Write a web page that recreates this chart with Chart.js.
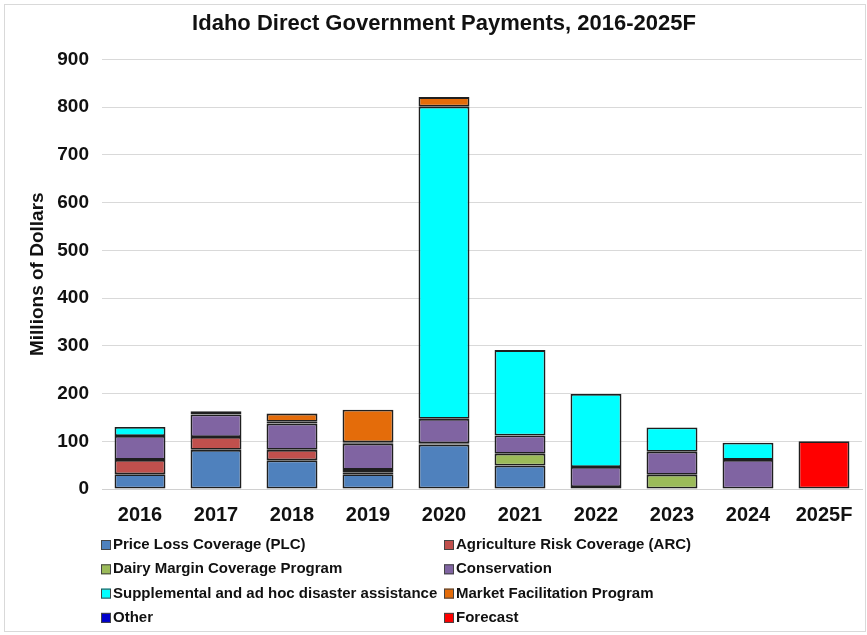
<!DOCTYPE html>
<html>
<head>
<meta charset="utf-8">
<script src="https://cdn.jsdelivr.net/npm/chart.js@4/dist/chart.umd.min.js"></script>
<style>
  html, body { margin: 0; padding: 0; background: #fff; }
  #wrap { width: 867px; height: 635px; position: relative; }
</style>
</head>
<body>
<div id="wrap"><canvas id="chart" width="867" height="635"></canvas></div>
<script>
// values in millions of dollars
const years = ["2016", "2017", "2018", "2019", "2020", "2021", "2022", "2023", "2024", "2025F"];
const plc = [31, 82, 60, 31, 93, 49, 4, null, 1, null];
const arc = [30, 27, 22, 4, 3, null, null, null, null, null];
const dairy = [null, null, null, 5, null, 25, null, 30, null, null];
const conservation = [50, 47, 55, 55, 51, 38, 42, 48, 60, null];
const supplemental = [19, 7, 4, 3, 654, 179, 153, 51, 36, null];
const mfp = [null, null, 17, 68, 20, null, null, null, null, null];
const other = [null, null, null, null, null, null, null, null, null, null];
const forecast = [null, null, null, null, null, null, null, null, null, 100];
const yTicks = [0, 100, 200, 300, 400, 500, 600, 700, 800, 900];

const FONT = "'Liberation Sans', Arial, sans-serif";

function series(label, data, color) {
  return {
    label, data,
    backgroundColor: color,
    borderColor: "#1f1f1f",
    borderWidth: 1.8,
    borderSkipped: false,
    categoryPercentage: 1,
    barPercentage: 0.67,
  };
}

// two-column legend drawn under the axis, like the Excel original
const legendPlugin = {
  id: "twoColLegend",
  afterDraw(chart) {
    const ctx = chart.ctx;
    const items = chart.data.datasets;
    ctx.save();
    ctx.font = "bold 15px " + FONT;
    ctx.textBaseline = "middle";
    items.forEach((ds, i) => {
      const col = i % 2, row = Math.floor(i / 2);
      const x = col === 0 ? 101 : 444;
      const y = 545 + row * 24.3;
      ctx.fillStyle = ds.backgroundColor;
      ctx.fillRect(x, y - 5, 10, 10);
      ctx.strokeStyle = "#444";
      ctx.lineWidth = 1;
      ctx.strokeRect(x + 0.5, y - 4.5, 9, 9);
      ctx.fillStyle = "#111";
      ctx.fillText(ds.label, x + 12, y);
    });
    ctx.restore();
  },
};

const framePlugin = {
  id: "frame",
  beforeDraw(chart) {
    const ctx = chart.ctx;
    ctx.save();
    ctx.fillStyle = "#fff";
    ctx.fillRect(0, 0, chart.width, chart.height);
    ctx.strokeStyle = "#d9d9d9";
    ctx.lineWidth = 1;
    ctx.strokeRect(4.5, 4.5, chart.width - 6, chart.height - 8);
    ctx.restore();
  },
};

new Chart(document.getElementById("chart"), {
  type: "bar",
  data: {
    labels: years,
    datasets: [
      series("Price Loss Coverage (PLC)", plc, "#4f81bd"),
      series("Agriculture Risk Coverage (ARC)", arc, "#c0504d"),
      series("Dairy Margin Coverage Program", dairy, "#9bbb59"),
      series("Conservation", conservation, "#8064a2"),
      series("Supplemental and ad hoc disaster assistance", supplemental, "#00ffff"),
      series("Market Facilitation Program", mfp, "#e46c0a"),
      series("Other", other, "#0000cc"),
      series("Forecast", forecast, "#ff0000"),
    ],
  },
  options: {
    responsive: false,
    animation: false,
    devicePixelRatio: 1,
    layout: { padding: { left: 26, right: 5, top: 8, bottom: 102 } },
    plugins: {
      legend: { display: false },
      tooltip: { enabled: false },
      title: {
        display: true,
        text: "Idaho Direct Government Payments, 2016-2025F",
        color: "#111",
        font: { family: FONT, size: 22, weight: "bold" },
        padding: { top: 3, bottom: 22 },
      },
    },
    scales: {
      x: {
        stacked: true,
        grid: { display: false },
        border: { color: "#d0d0d0" },
        ticks: { color: "#111", font: { family: FONT, size: 20, weight: "bold" }, padding: 6 },
      },
      y: {
        stacked: true,
        min: 0,
        max: 900,
        afterBuildTicks: (axis) => { axis.ticks = yTicks.map((v) => ({ value: v })); },
        afterFit: (axis) => { axis.width = 76; },
        grid: { color: "#d9d9d9", drawTicks: false },
        border: { display: false },
        ticks: { color: "#111", font: { family: FONT, size: 19, weight: "bold" }, padding: 13 },
        title: {
          display: true,
          text: "Millions of Dollars",
          color: "#111",
          font: { family: FONT, size: 19, weight: "bold" },
          padding: { top: 0, bottom: 2 },
        },
      },
    },
  },
  plugins: [framePlugin, legendPlugin],
});
</script>
</body>
</html>
